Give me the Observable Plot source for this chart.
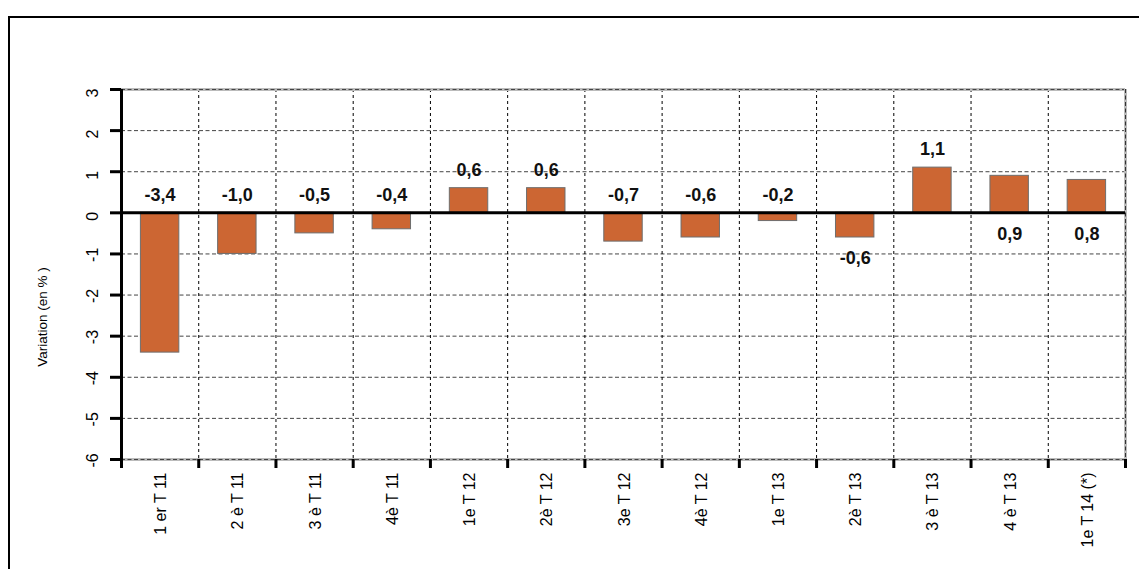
<!DOCTYPE html>
<html>
<head>
<meta charset="utf-8">
<script src="https://cdn.jsdelivr.net/npm/d3@7"></script>
<script src="https://cdn.jsdelivr.net/npm/@observablehq/plot@0.6"></script>
<style>
  html, body { margin: 0; padding: 0; background: #fff; }
  #wrap { position: relative; width: 1139px; height: 569px; overflow: hidden;
          font-family: 'Liberation Sans', Arial, sans-serif; }
  #frame { position: absolute; left: 8px; top: 16px; width: 1200px; height: 600px;
           border-left: 2px solid #000; border-top: 2px solid #000; box-sizing: border-box; }
  #chart { position: absolute; left: 0; top: 0; }
  #ytitle { position: absolute; left: 42px; top: 317px; font-size: 13.5px; color: #000;
            white-space: nowrap; transform: translate(-50%, -50%) rotate(-90deg); }
</style>
</head>
<body>
<div id="wrap"><div id="frame"></div><div id="chart"></div><div id="ytitle"></div></div>
<script>
// Quarterly variation (in %)
const categories = ["1 er T 11", "2 è T 11", "3 è T 11", "4è T 11", "1e T 12", "2è T 12",
  "3e T 12", "4è T 12", "1e T 13", "2è T 13", "3 è T 13", "4 è T 13", "1e T 14 (*)"];
const values = [-3.4, -1.0, -0.5, -0.4, 0.6, 0.6, -0.7, -0.6, -0.2, -0.6, 1.1, 0.9, 0.8];
// where each value label sits: at the zero line or at the bar end, above or below it
const labelAt = ["zero-above", "zero-above", "zero-above", "zero-above", "end-above", "end-above",
  "zero-above", "zero-above", "zero-above", "end-below", "end-above", "zero-below", "zero-below"];
const yTicks = [3, 2, 1, 0, -1, -2, -3, -4, -5, -6];
const yTitle = "Variation (en % )";

const data = categories.map((c, i) => ({i, c, v: values[i], at: labelAt[i]}));
const fmt = v => v.toFixed(1).replace(".", ",");
const anchorY = d => d.at.startsWith("end") ? d.v : 0;
const above = data.filter(d => d.at.endsWith("above"));
const below = data.filter(d => d.at.endsWith("below"));
const bounds = d3.range(categories.length + 1);
const font = "'Liberation Sans', Arial, sans-serif";

const chart = Plot.plot({
  width: 1139,
  height: 569,
  marginLeft: 121,
  marginRight: 14,
  marginTop: 89,
  marginBottom: 110,
  style: {background: "transparent", fontFamily: font},
  x: {domain: [0, categories.length], axis: null, label: null},
  y: {domain: [-6, 3], axis: null, label: null},
  marks: [
    // horizontal grid
    Plot.ruleY(yTicks.filter(t => t > -6 && t < 3 && t !== 0), {stroke: "#444", strokeWidth: 1, strokeDasharray: "4,2.5"}),
    // vertical grid at category boundaries
    Plot.ruleX(bounds.slice(1, -1), {stroke: "#000", strokeWidth: 1, strokeDasharray: "3,3"}),
    // plot-area border (top, bottom, right)
    Plot.ruleY([3, -6], {stroke: "#bbb", strokeWidth: 3}),
    Plot.ruleY([3, -6], {stroke: "#444", strokeWidth: 1, strokeDasharray: "4,2.5"}),
    Plot.ruleX([categories.length], {stroke: "#bbb", strokeWidth: 3}),
    Plot.ruleX([categories.length], {stroke: "#333", strokeWidth: 1, strokeDasharray: "4,2.5"}),
    // bars
    Plot.rectY(data, {x1: d => d.i, x2: d => d.i + 1, y1: 0, y2: "v", insetLeft: 19.4, insetRight: 19.4,
      fill: "#CC6633", stroke: "#6e6e6e", strokeWidth: 1}),
    // zero line
    Plot.ruleY([0], {stroke: "#000", strokeWidth: 3}),
    // axes
    Plot.ruleX([0], {stroke: "#000", strokeWidth: 3}),
    Plot.axisY({ticks: yTicks, tickSize: 11, strokeWidth: 3, stroke: "#000", tickFormat: () => "", label: null}),
    Plot.axisX({ticks: bounds, tickSize: 9, strokeWidth: 3, stroke: "#000", tickFormat: () => "", label: null}),
    Plot.text(yTicks, {y: d => d, text: d => String(d), frameAnchor: "left", dx: -29, dy: 8, rotate: -90,
      fontSize: 16, fill: "#000"}),
    Plot.text(data, {x: d => d.i + 0.5, text: "c", frameAnchor: "bottom", dx: 6, dy: 13, rotate: -90,
      textAnchor: "end", fontSize: 16, fill: "#000"}),
    // value labels
    Plot.text(above, {x: d => d.i + 0.5, y: anchorY, text: d => fmt(d.v), dy: -18,
      fontSize: 18, fontWeight: "bold", fill: "#111"}),
    Plot.text(below, {x: d => d.i + 0.5, y: anchorY, text: d => fmt(d.v), dy: 21,
      fontSize: 18, fontWeight: "bold", fill: "#111"})
  ]
});
document.getElementById("chart").appendChild(chart);
document.getElementById("ytitle").textContent = yTitle;
</script>
</body>
</html>
